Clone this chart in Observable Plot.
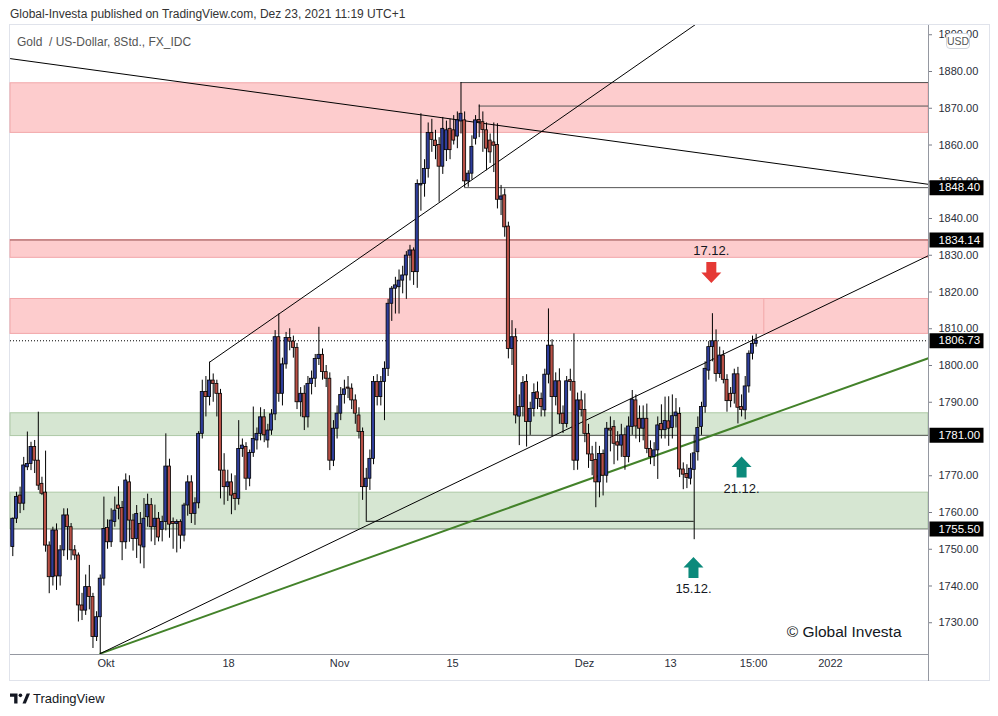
<!DOCTYPE html>
<html><head><meta charset="utf-8">
<script src="https://cdn.jsdelivr.net/npm/d3@7"></script>
<script src="https://cdn.jsdelivr.net/npm/@observablehq/plot@0.6"></script>
<style>
html,body{margin:0;padding:0;background:#fff;}
body{width:998px;height:716px;overflow:hidden;position:relative;font-family:"Liberation Sans",Arial,sans-serif;}
#hdr{position:absolute;left:10px;top:7px;font-size:12px;color:#333;white-space:nowrap;}
#frame{position:absolute;left:9px;top:24px;width:981px;height:657px;border:1px solid #e0e3eb;box-sizing:border-box;}
#chart{position:absolute;left:0;top:0;}
#vsep{position:absolute;left:928px;top:25px;width:1px;height:656px;background:#9598a1;}
#hsep{position:absolute;left:10px;top:654px;width:918px;height:1px;background:#9598a1;}
#legend{position:absolute;left:17px;top:35px;font-size:12px;color:#555;white-space:pre;}
#usd{position:absolute;left:946px;top:33px;width:24px;height:16px;border:1px solid #d1d4dc;border-radius:4px;background:#fff;box-sizing:border-box;font-size:10.5px;color:#555;text-align:center;line-height:14px;}
#footer{position:absolute;left:10px;top:691px;font-size:13px;color:#131722;display:flex;align-items:center;gap:3px;}
</style>
</head><body>
<div id="frame"></div>
<div id="chart"></div>
<div id="vsep"></div>
<div id="hsep"></div>
<div id="hdr">Global-Investa published on TradingView.com, Dez 23, 2021 11:19 UTC+1</div>
<div id="legend">Gold  / US-Dollar, 8Std., FX_IDC</div>
<div id="usd">USD</div>
<div id="footer"><svg width="20" height="13" viewBox="0 0 24 14"><path d="M0 1h9v12h-4v-8h-5z" fill="#131722"/><circle cx="12.5" cy="3.2" r="2.2" fill="#131722"/><path d="M15 13l5-12h4l-5 12z" fill="#131722"/></svg><span>TradingView</span></div>
<script>
// ---- candles (8h bars), [open, high, low, close]
const ohlc = [
[1750.6,1758.5,1748,1758.3],[1758.3,1765.5,1757,1764.2],[1764.6,1766.9,1759.7,1762.4],[1762.4,1775,1760.5,1772.8],
[1772.3,1781.9,1771.4,1773.2],[1773.2,1779.1,1771.4,1777.8],[1777.8,1779.6,1770.6,1774.1],[1774.1,1787.3,1766,1767.3],
[1767.8,1769.6,1764.6,1765.1],[1765.4,1776.7,1749.2,1751],[1751,1752,1737.9,1742.4],[1742.4,1756,1740,1755.1],
[1755.1,1756.9,1738.8,1742.6],[1742.6,1751,1740,1749.7],[1749.7,1761,1748,1759.2],[1759.2,1761,1747,1756],
[1756,1757,1746.9,1749.7],[1749.7,1751,1747,1748.3],[1748.3,1749,1730.2,1734.7],[1734.7,1738,1730.6,1733.3],
[1733.3,1743,1732,1739.7],[1739.7,1745.6,1733.5,1737],[1737,1738,1723,1726.1],[1726.1,1733,1724.9,1731.5],
[1731.5,1743,1721.6,1742],[1742,1764.2,1740,1755.5],[1755.8,1758,1750,1751.9],[1751.9,1761,1750.5,1757.8],
[1757.4,1764.2,1756,1760.5],[1761.9,1767,1758,1761],[1761.2,1763,1746.9,1751.9],[1751.9,1770.5,1750,1768.7],
[1768.2,1770,1751.9,1757.8],[1757.8,1759.5,1749.5,1752.8],[1752.8,1761.9,1747.5,1759.6],[1756.9,1760,1746,1751],
[1750.5,1763.8,1744.7,1758.3],[1758.7,1765,1756,1762.1],[1762,1763.8,1752,1756],[1756,1762,1751,1758.3],
[1758.3,1760,1752,1753.2],[1755.3,1759,1752,1757.4],[1757.4,1781.4,1755,1772.5],[1772.5,1774.5,1753,1756.7],
[1757.4,1758.5,1750,1756.9],[1756.9,1758,1749,1757.4],[1757.4,1758,1750,1753.7],[1753.7,1762.5,1752,1761.9],
[1761.9,1770,1759,1768.2],[1768.2,1770,1757,1759.6],[1759.6,1764,1756.5,1762.5],[1762.5,1782,1761,1781.4],
[1781.4,1796,1780,1792.8],[1792.8,1797,1786,1791.4],[1791.4,1800.9,1789,1795.9],[1795.9,1797.7,1790,1795],
[1795,1796,1786,1792.3],[1792.3,1793.5,1763.7,1771.4],[1771.4,1776,1762,1766.9],[1766.9,1771.5,1763,1768.2],
[1768.2,1770.5,1759.4,1764.6],[1765,1770,1760.5,1763.7],[1763.7,1785,1762,1777.3],[1777.3,1780,1775,1778.2],
[1777.8,1779,1766,1769.2],[1769.2,1777,1767,1776.2],[1776.2,1788.7,1775,1780],[1779.6,1783,1777,1781.4],
[1781.4,1788.5,1779.5,1785.9],[1785.9,1788,1779,1781],[1779.6,1784,1777.5,1782.3],[1782.3,1788,1781,1786.7],
[1786.7,1809.5,1785,1807.7],[1807.7,1814,1790,1792.3],[1792.3,1802,1789,1800.3],[1800.3,1809,1799,1807.5],
[1807.5,1810,1804,1806.5],[1806.5,1808,1802,1804.8],[1804.8,1806,1788,1790],[1790,1794,1786,1792.3],
[1792.3,1794.5,1782.3,1785.9],[1785.9,1797,1783,1795],[1795,1798.5,1792,1796.4],[1796.4,1803,1794,1801.8],
[1801.8,1810.4,1800,1802.9],[1802.9,1804.5,1796,1798.2],[1798.2,1800,1794,1796.4],[1796.4,1798,1771.4,1774.1],
[1774.1,1785,1772.5,1782.8],[1782.8,1789,1780,1786.9],[1786.9,1794,1785,1792],[1792,1796,1789.5,1793.5],
[1794,1797,1791,1793.7],[1793.7,1795,1788,1790.5],[1790.5,1792,1784,1786.9],[1786.4,1788.5,1780,1781.9],
[1781.9,1783,1763.3,1766.9],[1766.9,1772,1757.6,1769.2],[1769.2,1777,1766,1774.6],[1774.6,1797,1773,1795.5],
[1795.5,1797.5,1789,1791.4],[1791.4,1797,1789,1795.5],[1795.5,1801,1785,1799.1],[1799.1,1818,1797,1816.8],
[1816.8,1821.5,1812,1820.9],[1820.9,1824,1814,1821.8],[1821.3,1826,1814,1823.1],[1823.1,1827,1819.5,1824.5],
[1824.5,1831,1818,1829.9],[1829.9,1832.7,1823,1831.3],[1831.3,1832,1821.8,1825.4],[1825.4,1850.5,1821,1849.4],
[1849,1868.5,1842,1849.4],[1849.4,1856,1845.8,1853.5],[1853.5,1866,1851,1863.3],[1863.3,1867,1858,1861.4],
[1861.2,1864,1856,1859.7],[1860,1862,1844.4,1854.1],[1854.1,1867.5,1852,1864.4],[1858.6,1866.5,1855.5,1864],
[1864.4,1867,1856,1858.6],[1864,1868,1860,1861.2],[1862.3,1869,1859,1866.7],[1866.4,1877,1863,1868.5],
[1866.7,1869,1848.4,1850.1],[1850.1,1853,1848.5,1852.2],[1852.2,1862.5,1850.5,1859.5],[1861.7,1868,1860,1866.7],
[1866.8,1870.9,1862,1866.2],[1866.2,1869,1858,1864.1],[1864,1866,1853,1859],[1861.2,1863,1855,1858],
[1860.7,1866,1852.5,1859.8],[1860,1865.8,1842.6,1845.1],[1845.1,1849,1840.8,1846],[1846.3,1848,1834.9,1837.6],
[1837.8,1839,1801.8,1804.5],[1804.5,1812.2,1800,1807.7],[1807.7,1810,1784.1,1786.4],[1786.1,1792,1778.2,1788.7],
[1788.7,1797,1786,1795.2],[1795.5,1797.5,1777.8,1784.6],[1784.6,1790,1781,1788.2],[1788.2,1795,1786,1792.5],
[1792.7,1795.5,1788,1790.9],[1790.9,1792.5,1786,1788.7],[1787.8,1799,1786,1797.5],[1797.5,1815.4,1795,1805.4],
[1805.4,1807,1780.7,1791.4],[1791.4,1798,1789,1795.7],[1795.7,1799.1,1784,1786.7],[1786.9,1789,1781.5,1784.1],
[1784.1,1797,1783,1795.7],[1796,1799,1793,1795.5],[1795.5,1808.6,1771.4,1774.1],[1774.1,1792.5,1771.5,1790.5],
[1790.5,1793,1786,1787.9],[1787.9,1792.3,1779,1781.4],[1781.4,1784,1772,1775.8],[1775.8,1778,1770,1774],
[1774.3,1779.1,1761.3,1768.2],[1768.2,1778,1764,1775.9],[1775.9,1777,1764.5,1770],[1770,1784.5,1768,1782.8],
[1782.8,1786,1776.5,1782.3],[1783.3,1785,1773,1778.7],[1779.1,1782,1774,1778.2],[1778.2,1784,1775,1781],
[1781,1783,1771.5,1775.1],[1775.1,1786,1773.5,1783.4],[1783.3,1793.2,1781,1790.7],[1790.5,1792,1780,1783.4],
[1785.5,1789,1779,1782.8],[1782.8,1789,1779.5,1785.5],[1785.5,1789.5,1776,1777.3],[1777.3,1779.5,1773,1775.1],
[1775.1,1779,1772.5,1776.9],[1776.9,1786,1769,1783.7],[1784.1,1789.3,1780,1782.4],[1782.4,1791.4,1780,1784.9],
[1784.8,1791.5,1778,1782.8],[1783,1792,1780,1786.2],[1786.2,1791,1783,1787.2],[1786.8,1788.5,1769.5,1771.7],
[1771.7,1773.5,1766.2,1770.3],[1770.5,1773,1766.5,1769.4],[1769.2,1776,1767.5,1771.9],[1771.6,1781,1752.6,1776.1],
[1776.4,1786,1774,1783],[1783.3,1790,1781,1788.7],[1788.7,1801,1787,1799.1],[1798.6,1806.5,1796,1805],
[1805,1814.1,1801,1806.6],[1806.6,1809.7,1795.5,1797.7],[1797.7,1805,1796.5,1802.7],[1802.7,1804,1795,1796.1],
[1796.1,1797.5,1787.3,1790.3],[1792.3,1794,1788.5,1790.3],[1792.3,1799,1789.5,1797.6],[1797.6,1799.5,1784.1,1788.5],
[1788.7,1792,1786,1787.9],[1787.8,1797,1785.2,1794.3],[1794.3,1804,1792.5,1803.2],[1803.2,1808,1801.5,1805.9],
[1805.9,1808.5,1805,1806.73]
];

// ---- time axis (bar-index positions of the labels)
const xTickPos = [25.6, 59.2, 89.7, 120.7, 156.9, 180.5, 203.3, 224.4];
const xTickLabels = ["Okt", "18", "Nov", "15", "Dez", "13", "15:00", "2022"];
const xDomain = [-0.63, 251.3];

// ---- price axis (1780.00 is hidden behind the 1781.00 tag in the original)
const yTicks = [1730, 1740, 1750, 1760, 1770, 1790, 1800, 1810, 1820, 1830, 1840, 1850, 1860, 1870, 1880, 1890];
const yDomain = [1721.36, 1892.52];

// ---- zones
const redZones = [{lo: 1863.3, hi: 1876.8}, {lo: 1829.3, hi: 1834.14}, {lo: 1808.6, hi: 1818.1}];
const greenZones = [{lo: 1780.8, hi: 1787.0}, {lo: 1755.5, hi: 1765.4}];
const redSplits = [{i: 206.1, lo: 1808.6, hi: 1818.1}];
const greenSplits = [{i: 95, lo: 1755.5, hi: 1765.4}];

// ---- horizontal rays from bars
const rays = [
  {from: 123, price: 1877.0},
  {from: 128, price: 1870.6},
  {from: 124, price: 1848.4},
  {from: 139, price: 1781.0}
];
const bracket = [{from: 97, to: 187, price: 1757.6}];
const fullLevels = [{price: 1834.14, kind: "res"}, {price: 1755.5, kind: "sup"}];

// ---- trend lines (bar index, price)
const trendBlack = [
  {name: "down", i: -0.63, p: 1883.5}, {name: "down", i: 251.3, p: 1849.3},
  {name: "upper", i: 54, p: 1800.9}, {name: "upper", i: 200, p: 1901.5},
  {name: "lower", i: 24, p: 1721.6}, {name: "lower", i: 251.3, p: 1829.9}
];
const trendGreen = [{i: 24, p: 1721.6}, {i: 251.3, p: 1802.0}];

// ---- labels
const lastPrice = 1806.73;
const priceTags = [1848.40, 1834.14, 1806.73, 1781.00, 1755.50];
const arrows = [
  {label: "17.12.", i: 191.7, p: 1825.3, dir: "down"},
  {label: "21.12.", i: 200.0, p: 1772.4, dir: "up"},
  {label: "15.12.", i: 186.8, p: 1745.0, dir: "up"}
];
const credit = ["© Global Investa"];

const candles = ohlc.map(([o, h, l, c], i) => ({i, o, h, l, c}));
const up = candles.filter(d => d.c >= d.o);
const down = candles.filter(d => d.c < d.o);
const labelOf = new Map(xTickPos.map((p, k) => [p, xTickLabels[k]]));

const arrowDown = {draw(ctx) {
  ctx.moveTo(-5, -10.5); ctx.lineTo(5, -10.5); ctx.lineTo(5, 0); ctx.lineTo(10, 0);
  ctx.lineTo(0, 10.5); ctx.lineTo(-10, 0); ctx.lineTo(-5, 0); ctx.closePath();
}};
const arrowUp = {draw(ctx) {
  ctx.moveTo(-5, 10.5); ctx.lineTo(5, 10.5); ctx.lineTo(5, 0); ctx.lineTo(10, 0);
  ctx.lineTo(0, -10.5); ctx.lineTo(-10, 0); ctx.lineTo(-5, 0); ctx.closePath();
}};
const tagBox = {draw(ctx) { ctx.rect(-27, -7.5, 54, 15); }};

const BLUE = "#2e3d9a", RED = "#b85046";
const halfW = 0.42;

const chart = Plot.plot({
  width: 998, height: 716,
  marginLeft: 10, marginRight: 70, marginTop: 25, marginBottom: 62,
  x: {domain: xDomain},
  y: {domain: yDomain},
  style: {background: "transparent", fontFamily: "'Liberation Sans', Arial, sans-serif", overflow: "visible"},
  marks: [
    Plot.rect(redZones, {y1: "lo", y2: "hi", fill: "#fdcccd", stroke: "#f2a7a9", strokeWidth: 1}),
    Plot.rect(greenZones, {y1: "lo", y2: "hi", fill: "#d6e6d2", stroke: "#adc8a6", strokeWidth: 1}),
    Plot.ruleX(redSplits, {x: "i", y1: "lo", y2: "hi", stroke: "#f2a7a9"}),
    Plot.ruleX(greenSplits, {x: "i", y1: "lo", y2: "hi", stroke: "#adc8a6"}),
    Plot.ruleY(fullLevels, {y: "price", stroke: d => d.kind === "res" ? "#9e5b5b" : "#8a8f8a", strokeWidth: 1}),
    Plot.ruleY(rays, {y: "price", x1: "from", x2: () => xDomain[1], stroke: "#555", strokeWidth: 1}),
    Plot.ruleY(bracket, {y: "price", x1: "from", x2: "to", stroke: "#111", strokeWidth: 1}),
    Plot.ruleY([lastPrice], {stroke: "#000", strokeDasharray: "1,2", strokeWidth: 1}),
    Plot.line(trendGreen, {x: "i", y: "p", stroke: "#43822a", strokeWidth: 2, clip: true}),
    Plot.line(trendBlack, {x: "i", y: "p", z: "name", stroke: "#000", strokeWidth: 1, clip: true}),
    Plot.ruleX(candles, {x: "i", y1: "l", y2: "h", stroke: "#000", strokeWidth: 1}),
    Plot.rect(up, {x1: d => d.i - halfW, x2: d => d.i + halfW, y1: "o", y2: "c", fill: BLUE, stroke: "#000", strokeWidth: 0.8}),
    Plot.rect(down, {x1: d => d.i - halfW, x2: d => d.i + halfW, y1: "o", y2: "c", fill: RED, stroke: "#000", strokeWidth: 0.8}),
    Plot.dot(arrows.filter(d => d.dir === "down"), {x: "i", y: "p", symbol: arrowDown, fill: "#e53935", stroke: "none"}),
    Plot.dot(arrows.filter(d => d.dir === "up"), {x: "i", y: "p", symbol: arrowUp, fill: "#0c8a7b", stroke: "none"}),
    Plot.text(arrows.filter(d => d.dir === "down"), {x: "i", y: "p", text: "label", dy: -22, fontSize: 13, fill: "#131722"}),
    Plot.text(arrows.filter(d => d.dir === "up"), {x: "i", y: "p", text: "label", dy: 21.5, fontSize: 13, fill: "#131722"}),
    Plot.text(credit, {frameAnchor: "bottom-right", dx: -27, dy: -22, lineAnchor: "middle", textAnchor: "end", fontSize: 15.5, fill: "#131722"}),
    Plot.axisY({anchor: "right", ticks: yTicks, tickFormat: d => d.toFixed(2), tickSize: 3, tickPadding: 7, fontSize: 11, stroke: "#787b86", fill: "#2a2e39", label: null}),
    Plot.axisX({ticks: xTickPos, tickFormat: d => labelOf.get(d), tickSize: 0, tickPadding: 5, fontSize: 11, fill: "#2a2e39", label: null}),
    Plot.dot(priceTags, {y: d => d, frameAnchor: "right", dx: 28, symbol: tagBox, fill: "#000", stroke: "none"}),
    Plot.text(priceTags, {y: d => d, text: d => d.toFixed(2), frameAnchor: "right", dx: 10, textAnchor: "start", fontSize: 11.5, fill: "#fff"})
  ]
});
document.getElementById("chart").appendChild(chart);
</script>
</body></html>
